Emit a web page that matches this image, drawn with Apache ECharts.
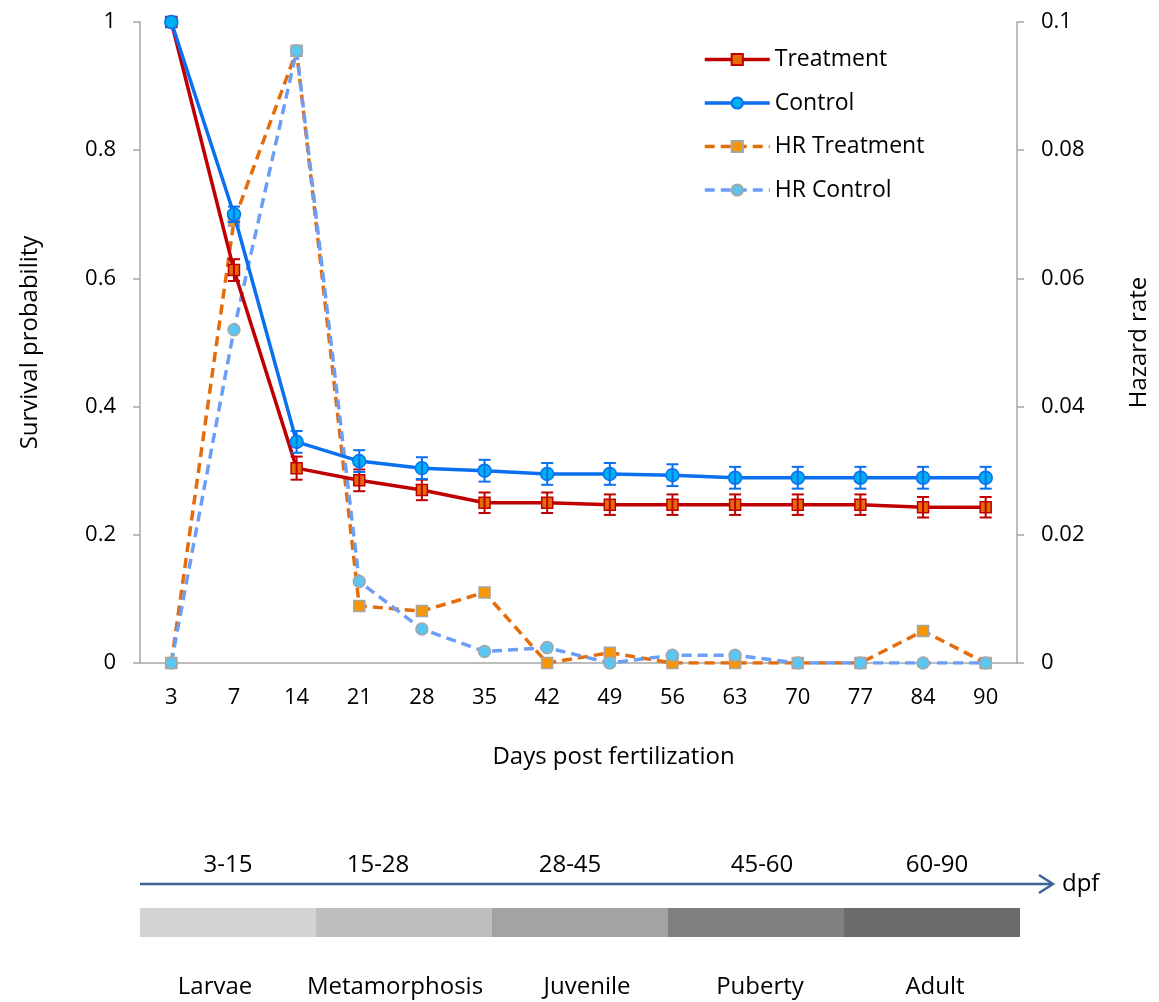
<!DOCTYPE html>
<html>
<head>
<meta charset="utf-8">
<script src="https://cdn.jsdelivr.net/npm/echarts@6/dist/echarts.min.js"></script>
<style>
html,body{margin:0;padding:0;background:#fff;}
#chart{width:1159px;height:1002px;}
</style>
</head>
<body>
<div id="chart"></div>
<script>
// ---- data ----
var days = ['3','7','14','21','28','35','42','49','56','63','70','77','84','90'];
var treatment = [1.0, 0.613, 0.304, 0.285, 0.270, 0.250, 0.250, 0.247, 0.247, 0.247, 0.247, 0.247, 0.243, 0.243];
var treatmentErr = [0, 0.017, 0.018, 0.017, 0.016, 0.016, 0.016, 0.016, 0.016, 0.016, 0.016, 0.016, 0.016, 0.016];
var control = [1.0, 0.700, 0.345, 0.315, 0.304, 0.300, 0.295, 0.295, 0.293, 0.289, 0.289, 0.289, 0.289, 0.289];
var controlErr = [0, 0.012, 0.017, 0.017, 0.017, 0.017, 0.017, 0.017, 0.017, 0.017, 0.017, 0.017, 0.017, 0.017];
var hrTreatment = [0, 0.069, 0.0955, 0.0089, 0.0081, 0.0110, 0, 0.0016, 0, 0, 0, 0, 0.0050, 0];
var hrControl = [0, 0.052, 0.0955, 0.0127, 0.0053, 0.0018, 0.0024, 0, 0.0012, 0.0012, 0, 0, 0, 0];
var leftTicks = [0, 0.2, 0.4, 0.6, 0.8, 1];
var rightTicks = [0, 0.02, 0.04, 0.06, 0.08, 0.1];
var stages = ['Larvae', 'Metamorphosis', 'Juvenile', 'Puberty', 'Adult'];
var stageRanges = ['3-15', '15-28', '28-45', '45-60', '60-90'];
var stageBlock = [1, 1, 1, 1, 1];

// ---- styles ----
var FONT = 'Open Sans';
var TICK = 22, TITLE = 24, LEG = 23;
var stageColors = ['#d3d3d3', '#bebebe', '#a3a3a3', '#808080', '#6b6b6b'];
var rangeShift = [0, -26, -10, 6, 5];
var stageShift = [-13, -9, 7, 4, 3];
var axisGray = '#a6a6a6';

function errData(vals, errs) {
  return vals.map(function (v, i) { return [i, v, errs[i]]; });
}
function errRender(color) {
  return function (params, api) {
    var i = api.value(0), v = api.value(1), e = api.value(2);
    if (!e) return null;
    var top = api.coord([i, v + e]);
    var bot = api.coord([i, v - e]);
    var hw = 6;
    var st = { stroke: color, lineWidth: 2 };
    return {
      type: 'group',
      children: [
        { type: 'line', shape: { x1: top[0], y1: top[1], x2: bot[0], y2: bot[1] }, style: st },
        { type: 'line', shape: { x1: top[0] - hw, y1: top[1], x2: top[0] + hw, y2: top[1] }, style: st },
        { type: 'line', shape: { x1: bot[0] - hw, y1: bot[1], x2: bot[0] + hw, y2: bot[1] }, style: st }
      ]
    };
  };
}
function shiftPad(s) {
  return s >= 0 ? [0, 0, 0, 2 * s] : [0, -2 * s, 0, 0];
}

var chart = echarts.init(document.getElementById('chart'));
var option = {
  backgroundColor: '#fff',
  animation: false,
  textStyle: { fontFamily: FONT },
  legend: {
    data: ['Treatment', 'Control', 'HR Treatment', 'HR Control'],
    orient: 'vertical',
    left: 703,
    top: 48,
    padding: 0,
    itemWidth: 65,
    itemHeight: 14,
    itemGap: 20.5,
    lineStyle: { width: 3.5 },
    textStyle: { fontFamily: FONT, fontSize: LEG, color: '#000', lineHeight: 23 }
  },
  grid: [
    { left: 140, right: 139, top: 22, bottom: 339, containLabel: false },
    { left: 140, right: 139, top: 908, height: 29, containLabel: false }
  ],
  xAxis: [
    {
      type: 'category', gridIndex: 0, data: days, boundaryGap: true,
      axisLine: { lineStyle: { color: axisGray, width: 1.5 } },
      axisTick: { show: false },
      axisLabel: { color: '#000', fontSize: TICK, fontFamily: FONT, margin: 24 },
      name: 'Days post fertilization', nameLocation: 'middle', nameGap: 82,
      nameTextStyle: { color: '#000', fontSize: TITLE, fontFamily: FONT, padding: [0, 0, 0, 70] }
    },
    {
      type: 'category', gridIndex: 1, data: stages.map(function (s, i) {
        return { value: s, textStyle: { padding: shiftPad(stageShift[i]) } };
      }),
      position: 'bottom',
      axisLine: { show: false }, axisTick: { show: false },
      axisLabel: { interval: 0, color: '#000', fontSize: TITLE, fontFamily: FONT, margin: 38 }
    },
    {
      type: 'category', gridIndex: 1, data: stageRanges.map(function (s, i) {
        return { value: s, textStyle: { padding: shiftPad(rangeShift[i]) } };
      }),
      position: 'top',
      axisLine: { show: false }, axisTick: { show: false },
      axisLabel: { interval: 0, color: '#000', fontSize: TITLE, fontFamily: FONT, margin: 31 }
    }
  ],
  yAxis: [
    {
      type: 'value', gridIndex: 0, min: 0, max: 1, interval: 0.2, position: 'left',
      axisLine: { show: true, lineStyle: { color: axisGray, width: 1.5 } },
      axisTick: { show: true, length: 7, lineStyle: { color: axisGray, width: 1.5 } },
      splitLine: { show: false },
      axisLabel: { color: '#000', fontSize: TICK, fontFamily: FONT, margin: 24,
        formatter: function (v) { return leftTicks.indexOf(+v.toFixed(2)) >= 0 ? String(+v.toFixed(2)) : ''; } },
      name: 'Survival probability', nameLocation: 'middle', nameGap: 98, nameRotate: 90,
      nameTextStyle: { color: '#000', fontSize: TITLE, fontFamily: FONT }
    },
    {
      type: 'value', gridIndex: 0, min: 0, max: 0.1, interval: 0.02, position: 'right',
      axisLine: { show: true, lineStyle: { color: axisGray, width: 1.5 } },
      axisTick: { show: true, length: 7, lineStyle: { color: axisGray, width: 1.5 } },
      splitLine: { show: false },
      axisLabel: { color: '#000', fontSize: TICK, fontFamily: FONT, margin: 24,
        formatter: function (v) { return rightTicks.indexOf(+v.toFixed(3)) >= 0 ? String(+v.toFixed(3)) : ''; } },
      name: 'Hazard rate', nameLocation: 'middle', nameGap: 110, nameRotate: 90,
      nameTextStyle: { color: '#000', fontSize: TITLE, fontFamily: FONT }
    },
    {
      type: 'value', gridIndex: 1, min: 0, max: 1, show: false
    }
  ],
  series: [
    {
      type: 'custom', name: 'Treatment err', xAxisIndex: 0, yAxisIndex: 0, z: 4,
      renderItem: errRender('#c00000'), data: errData(treatment, treatmentErr), silent: true
    },
    {
      type: 'custom', name: 'Control err', xAxisIndex: 0, yAxisIndex: 0, z: 4,
      renderItem: errRender('#0a6ff0'), data: errData(control, controlErr), silent: true
    },
    {
      name: 'HR Treatment', type: 'line', xAxisIndex: 0, yAxisIndex: 1, data: hrTreatment, z: 2,
      symbol: 'rect', symbolSize: 11, showAllSymbol: true,
      lineStyle: { color: '#e46c0a', width: 3.5, type: [10, 6] },
      itemStyle: { color: '#f79600', borderColor: '#a6a6a6', borderWidth: 1.5 }
    },
    {
      name: 'HR Control', type: 'line', xAxisIndex: 0, yAxisIndex: 1, data: hrControl, z: 2,
      symbol: 'circle', symbolSize: 12, showAllSymbol: true,
      lineStyle: { color: '#6c9ef5', width: 3.5, type: [10, 6] },
      itemStyle: { color: '#5bc6f2', borderColor: '#a6a6a6', borderWidth: 1.5 }
    },
    {
      name: 'Treatment', type: 'line', xAxisIndex: 0, yAxisIndex: 0, data: treatment, z: 3,
      symbol: 'rect', symbolSize: 11, showAllSymbol: true,
      lineStyle: { color: '#c00000', width: 3.5 },
      itemStyle: { color: '#e36c09', borderColor: '#c00000', borderWidth: 1.5 }
    },
    {
      name: 'Control', type: 'line', xAxisIndex: 0, yAxisIndex: 0, data: control, z: 3,
      symbol: 'circle', symbolSize: 13, showAllSymbol: true,
      lineStyle: { color: '#0a6ff0', width: 3.5 },
      itemStyle: { color: '#00b0f0', borderColor: '#0a6ff0', borderWidth: 1.5 }
    },
    {
      name: 'Stages', type: 'bar', xAxisIndex: 1, yAxisIndex: 2, barCategoryGap: 0, silent: true,
      data: stageBlock.map(function (v, i) { return { value: v, itemStyle: { color: stageColors[i] } }; })
    }
  ],
  graphic: [
    { type: 'line', shape: { x1: 140, y1: 884, x2: 1052, y2: 884 }, style: { stroke: '#3c6495', lineWidth: 2.5 } },
    { type: 'polyline', shape: { points: [[1039, 875], [1053, 884], [1039, 893]] }, style: { stroke: '#3c6495', lineWidth: 2.5, fill: null } },
    { type: 'text', left: 1062, top: 872, style: { text: 'dpf', font: TITLE + 'px "' + FONT + '"', fill: '#000' } }
  ]
};
chart.setOption(option);
</script>
</body>
</html>
